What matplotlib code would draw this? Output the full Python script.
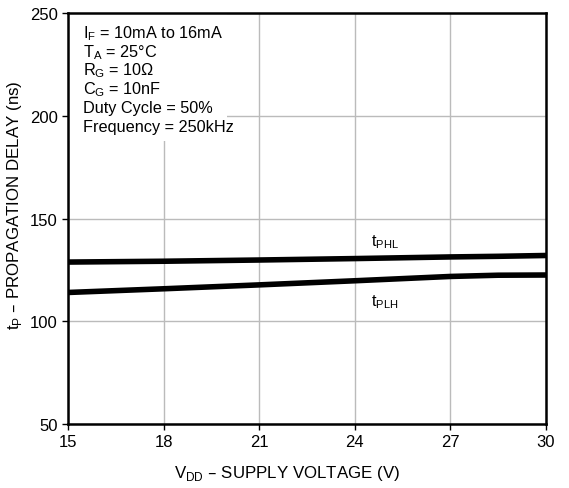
import matplotlib.pyplot as plt
from matplotlib.patches import Rectangle

plt.rcParams['font.family'] = ['Liberation Sans', 'DejaVu Sans']

# data
vdd = [15, 18, 21, 24, 27, 28.5, 30]
t_phl = [128.8, 129.2, 129.8, 130.5, 131.3, 131.6, 132.0]
t_plh = [114.0, 115.8, 117.7, 119.7, 121.8, 122.4, 122.5]

cond_lines = ['I$_{\\mathregular{F}}$ = 10mA to 16mA',
              'T$_{\\mathregular{A}}$ = 25°C',
              'R$_{\\mathregular{G}}$ = 10Ω',
              'C$_{\\mathregular{G}}$ = 10nF',
              'Duty Cycle = 50%',
              'Frequency = 250kHz']

fig = plt.figure(figsize=(5.69, 4.89), dpi=100)
ax = fig.add_axes([68/569, 1-425/489, 478/569, 411/489])

ax.plot(vdd, t_phl, color='black', linewidth=4, solid_capstyle='butt')
ax.plot(vdd, t_plh, color='black', linewidth=4, solid_capstyle='butt')

ax.set_xlim(15, 30)
ax.set_ylim(50, 250)
ax.set_xticks([15, 18, 21, 24, 27, 30])
ax.set_yticks([50, 100, 150, 200, 250])
ax.grid(True, color='#bbbbbb', linewidth=1)
ax.tick_params(direction='out', length=4, width=1, labelsize=12, colors='black')
for s in ax.spines.values():
    s.set_linewidth(1.8)

ax.set_xlabel('V$_{\\mathregular{DD}}$ – SUPPLY VOLTAGE (V)', fontsize=12.2)
ax.xaxis.set_label_coords(0.458, -0.095)
ax.set_ylabel('t$_{\\mathregular{P}}$ – PROPAGATION DELAY (ns)', fontsize=12.2)
ax.yaxis.set_label_coords(-0.092, 0.535)

ax.text(24.5, 137, 't$_{\\mathregular{PHL}}$', fontsize=11.5)
ax.text(24.5, 108, 't$_{\\mathregular{PLH}}$', fontsize=11.5)

# white box behind the conditions text hides the grid
ax.add_patch(Rectangle((15, 187.7), 5.0, 62.3, facecolor='white',
                       edgecolor='none', zorder=2))
for i, line in enumerate(cond_lines):
    ax.text(15.47, 238.3 - 9.15 * i, line, fontsize=11.7, ha='left',
            va='baseline', zorder=3)

fig.savefig('out.png', dpi=100)
